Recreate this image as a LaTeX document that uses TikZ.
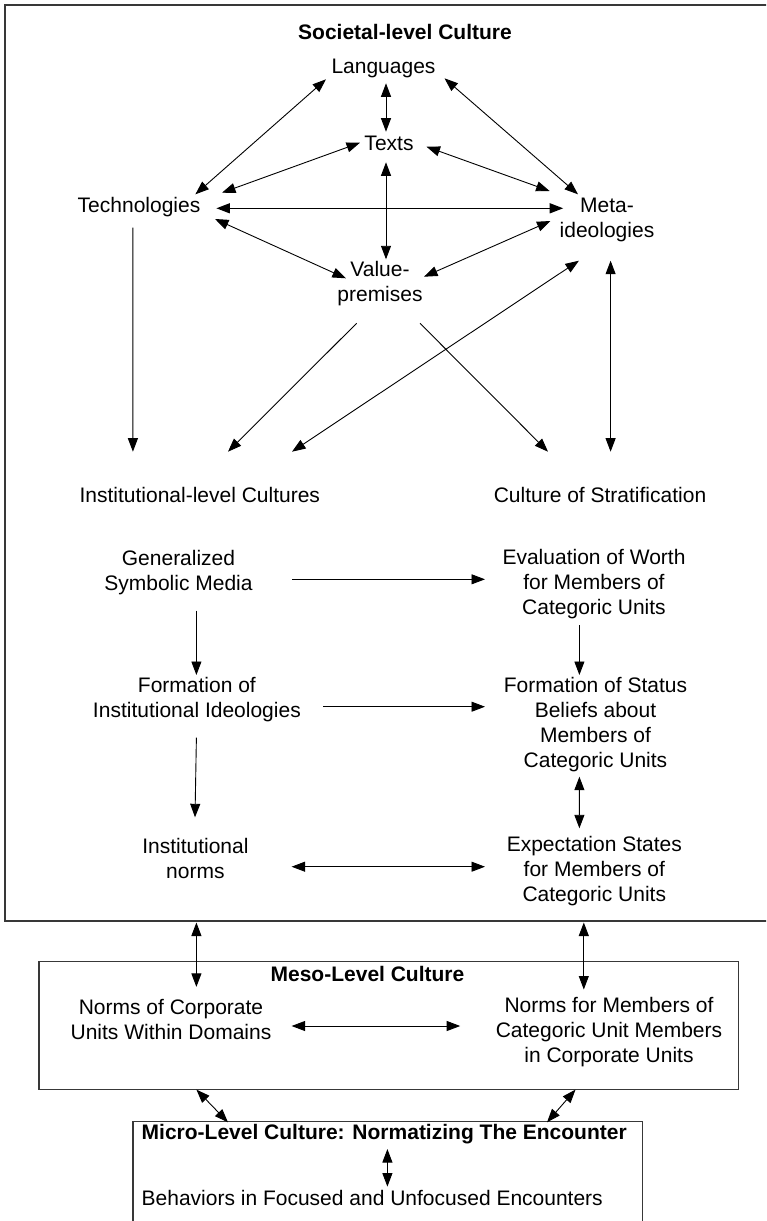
\documentclass[tikz,border=0pt]{standalone}
\usepackage{fontspec}
\setmainfont{Liberation Sans}
\usetikzlibrary{arrows.meta,calc}

\begin{document}
\begin{tikzpicture}[x=1pt,y=-1pt,
  every node/.style={inner sep=0pt, outer sep=0pt, text=black,
    font=\fontsize{21}{25}\selectfont},
  lbl/.style={align=center},
  ttl/.style={font=\fontsize{21}{25}\selectfont\bfseries},
  frame/.style={draw=black!78, line width=1.3pt, inner sep=0pt},
  tip/.tip={Triangle[length=13.5pt,width=10pt]},
  dbl/.style={line width=0.9pt, tip-tip},
  sgl/.style={line width=0.9pt, -tip},
]
\useasboundingbox (0,0) rectangle (766,1221);
\clip (0,0) rectangle (766,1221);

% ---------- frames ----------
\node[frame, anchor=north west, minimum width=775pt, minimum height=916pt] (soc) at (5,5) {};
\node[frame, anchor=north west, minimum width=699.6pt, minimum height=127.8pt] (meso) at (39,961.8) {};
\node[frame, anchor=north west, minimum width=509.5pt, minimum height=130pt] (micro) at (132.9,1121.7) {};

% ---------- societal level ----------
\node[ttl] (soctitle) at (405,31.7) {Societal-level Culture};
\node (lang)  at (383.5,68.3) {Languages};
\node (texts) at (389,143.3) {Texts};
\node (tech)  at (139,207.3) {Technologies};
\node[lbl] (meta)  at (607,219.8) {Meta-\\ideologies};
\node[lbl] (value) at (380,283.3) {Value-\\premises};

\node (inst)  at (199.8,495) {Institutional-level Cultures};
\node (strat) at (600,495) {Culture of Stratification};

\node[lbl] (gsm)   at (178.5,572.5) {Generalized\\Symbolic Media};
\node[lbl] (eval)  at (594,584.2) {Evaluation of Worth\\for Members of\\Categoric Units};
\node[lbl] (fii)   at (196.9,699.7) {Formation of\\Institutional Ideologies};
\node[lbl] (fsb)   at (595.5,724.8) {Formation of Status\\Beliefs about\\Members of\\Categoric Units};
\node[lbl] (norms) at (195.4,858.8) {Institutional\\norms};
\node[lbl] (exp)   at (594.3,871.2) {Expectation States\\for Members of\\Categoric Units};

% ---------- meso level ----------
\node[ttl] (mesotitle) at (367.5,973.5) {Meso-Level Culture};
\node[lbl] (ncu) at (171,1019.2) {Norms of Corporate\\Units Within Domains};
\node[lbl] (nfm) at (609,1031.8) {Norms for Members of\\Categoric Unit Members\\in Corporate Units};

% ---------- micro level ----------
\node[ttl, anchor=west] (microtitle) at (141.7,1134) {Micro-Level Culture: Normatizing The Encounter};
\node[anchor=west] (beh) at (141.7,1197.6) {Behaviors in Focused and Unfocused Encounters};

% ---------- connectors among societal elements ----------
\draw[dbl] ($(lang)+(-57.5,11)$) -- ($(tech)+(56.4,-13)$);
\draw[dbl] ($(lang)+(2.5,15)$) -- ($(texts)+(-3,-11.6)$);
\draw[dbl] ($(lang)+(61,10)$) -- ($(meta)+(-29,-25.5)$);
\draw[dbl] ($(texts)+(-29,-0.6)$) -- ($(tech)+(83,-14.6)$);
\draw[dbl] ($(texts)+(37.5,3.4)$) -- ($(meta)+(-57.4,-28.8)$);
\draw[dbl] ($(texts)+(-3,19)$) -- ($(value)+(6,-24)$);
\draw[dbl, line width=1.3pt] ($(tech)+(77.4,1)$) -- ($(meta)+(-43.8,-11.5)$);
\draw[dbl] ($(tech)+(76,11.7)$) -- ($(value)+(-34.1,-5)$);
\draw[dbl] ($(value)+(44,-6.6)$) -- ($(meta)+(-56.5,1.2)$);

% ---------- societal to institutional / stratification ----------
\draw[sgl] ($(tech)+(-6.1,20.4)$) -- ($(inst)+(-66.9,-43.3)$);
\draw[sgl] ($(value)+(-23.4,40)$) -- ($(inst)+(28.2,-43.3)$);
\draw[sgl] ($(value)+(40,40)$) -- ($(strat)+(-52,-43.3)$);
\draw[dbl] ($(inst)+(92.2,-43.3)$) -- ($(meta)+(-28.1,40.9)$);
\draw[dbl] ($(meta)+(3.6,40.9)$) -- ($(strat)+(10.6,-43.3)$);

% ---------- institutional and stratification chains ----------
\draw[sgl] ($(gsm)+(113.5,6.8)$) -- ($(eval)+(-109,-4.9)$);
\draw[sgl] ($(gsm)+(17.9,38.2)$) -- ($(fii)+(-0.5,-24.7)$);
\draw[sgl] ($(eval)+(-14.6,40.8)$) -- ($(fsb)+(-16.1,-49.8)$);
\draw[sgl] ($(fii)+(126.5,7)$) -- ($(fsb)+(-110.5,-18.1)$);
\draw[sgl] ($(fii)+(-0.5,38)$) -- ($(norms)+(-0.4,-41.5)$);
\draw[dbl] ($(fsb)+(-16.1,51.9)$) -- ($(exp)+(-14.9,-42.9)$);
\draw[dbl] ($(norms)+(96.2,7.9)$) -- ($(exp)+(-109.3,-4.5)$);

% ---------- links between levels ----------
\draw[dbl] ($(soc.south west)+(191.4,1.5)$) -- ($(ncu)+(25.4,-32.3)$);
\draw[dbl] ($(soc.south west)+(578.8,1.5)$) -- ($(nfm)+(-25.2,-42.3)$);
\draw[dbl] ($(ncu)+(120.6,6.8)$) -- ($(nfm)+(-148.8,-5.8)$);
\draw[dbl] ($(meso.south west)+(157.4,0)$) -- ($(micro.north west)+(95.1,0.6)$);
\draw[dbl] ($(meso.south west)+(536.5,0)$) -- ($(micro.north west)+(414.1,0.6)$);
\draw[dbl] ($(micro.north west)+(254.5,27.3)$) -- ($(micro.north west)+(254.5,64.9)$);

\end{tikzpicture}
\end{document}
